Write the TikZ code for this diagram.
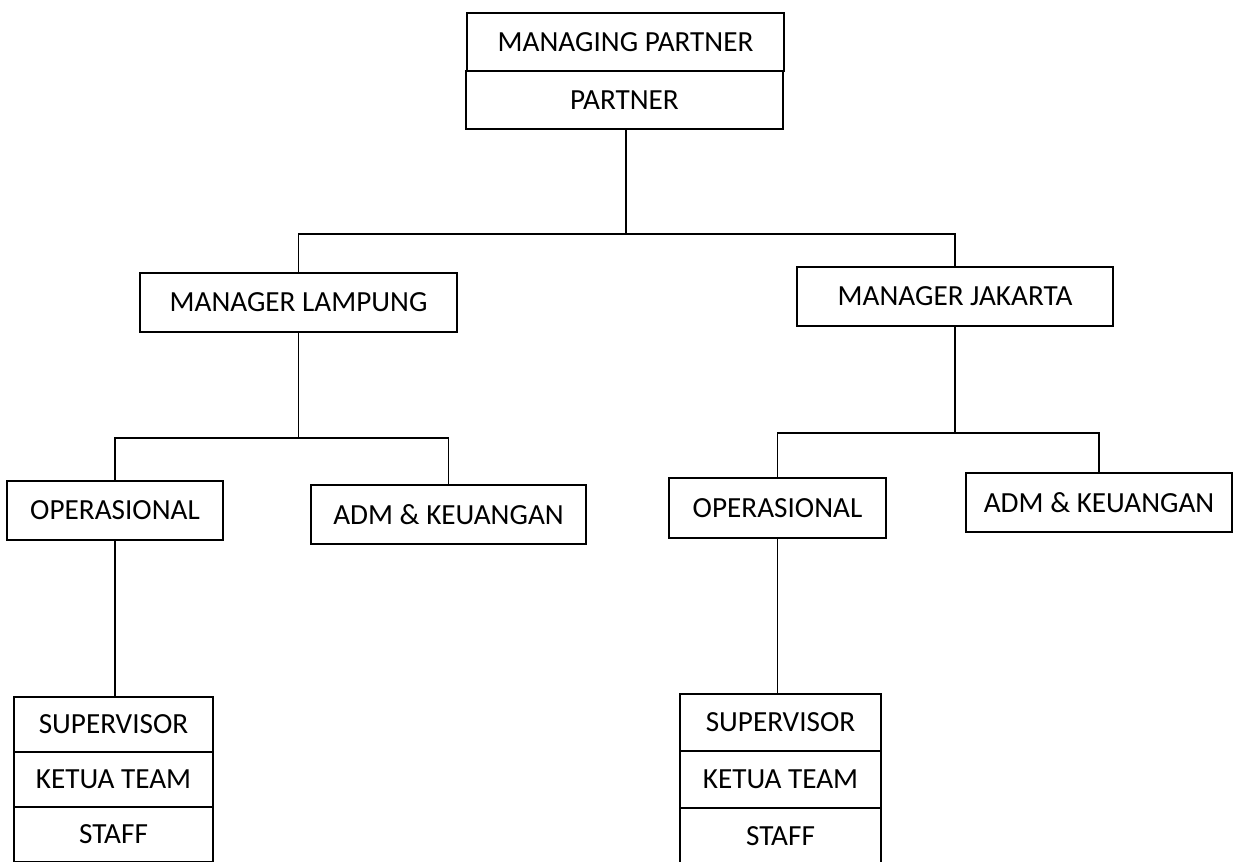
\documentclass[tikz,border=0pt]{standalone}
\usepackage{fontspec}
\setmainfont{Carlito}
\begin{document}
\begin{tikzpicture}[x=0.5pt, y=-0.5pt,
    box/.style={draw, line width=1pt, inner sep=0pt, minimum height=29.5pt,
      font=\fontsize{14.6}{17}\selectfont},
    link/.style={draw, line width=0.65pt}]

  \useasboundingbox (0,0) rectangle (1234,861);
  \clip (0,0) rectangle (1234,861);

  %% ---- Top boxes ----
  \node[box, minimum width=158.5pt, minimum height=29pt] (mp) at (625.5,42) {MANAGING PARTNER};
  \node[box, minimum width=158.5pt, minimum height=29pt] (partner) at (624.5,100) {PARTNER};

  %% ---- Managers ----
  \node[box, minimum width=158.5pt] (lampung) at (298.5,302.5) {MANAGER LAMPUNG};
  \node[box, minimum width=158pt] (jakarta) at (955,296.5) {MANAGER JAKARTA};

  %% ---- Lampung branch ----
  \node[box, minimum width=108pt] (opsL) at (115,510.5) {OPERASIONAL};
  \node[box, minimum width=137.5pt] (admL) at (448.5,514.5) {ADM \& KEUANGAN};

  %% ---- Jakarta branch ----
  \node[box, minimum width=108.5pt, minimum height=30pt] (opsJ) at (777.5,508) {OPERASIONAL};
  \node[box, minimum width=133pt] (admJ) at (1099,502.5) {ADM \& KEUANGAN};

  %% ---- Staff stacks ----
  \node[box, minimum width=99.5pt, minimum height=27.5pt] (supL) at (113.5,724.5) {SUPERVISOR};
  \node[box, minimum width=99.5pt, minimum height=27.5pt] (ketuaL) at (113.5,779.5) {KETUA TEAM};
  \node[box, minimum width=99.5pt, minimum height=27.5pt] (staffL) at (113.5,834.5) {STAFF};

  \node[box, minimum width=100.5pt, minimum height=28.5pt] (supJ) at (780.5,722.5) {SUPERVISOR};
  \node[box, minimum width=100.5pt, minimum height=28.5pt] (ketuaJ) at (780.5,779.5) {KETUA TEAM};
  \node[box, minimum width=100.5pt, minimum height=28.5pt] (staffJ) at (780.5,836.5) {STAFF};

  %% Junctions
  \coordinate (j1) at (626,234);
  \coordinate (j2) at (298.5,438);
  \coordinate (j3) at (955,433);

  %% ---- Connectors ----
  \draw[link] (partner.south -| j1) -- (j1);
  \draw[link] (lampung.north) |- (j1) -| (jakarta.north);

  \draw[link] (lampung.south) -- (j2);
  \draw[link] (opsL.north) |- (j2) -| (admL.north);
  \draw[link] (opsL.south) -- (opsL.south |- supL.north);

  \draw[link] (jakarta.south) -- (j3);
  \draw[link] (opsJ.north) |- (j3) -| (admJ.north);
  \draw[link] (opsJ.south) -- (opsJ.south |- supJ.north);

\end{tikzpicture}
\end{document}
